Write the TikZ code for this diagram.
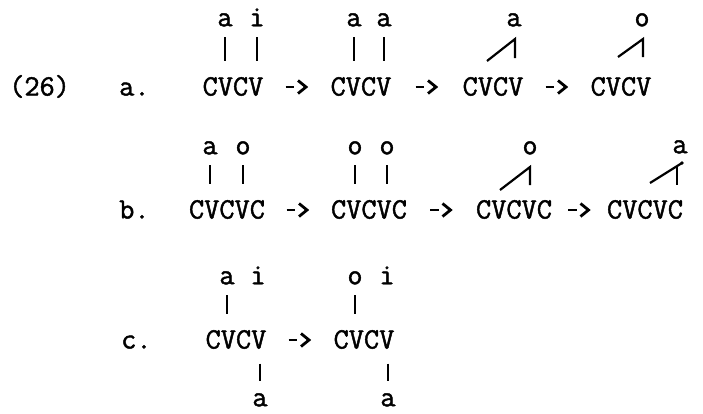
\documentclass[tikz,border=0pt]{standalone}
\usepackage{fontspec}
\newfontfamily\twfont{Latin Modern Mono}[FakeBold=1.5]
\usetikzlibrary{calc}
\begin{document}
\begin{tikzpicture}[x=1pt,y=1pt,
  tt/.style={font=\fontsize{29.5}{30}\twfont, inner sep=0pt},
  word/.style={tt, text height=17pt, text depth=0pt},
  vow/.style={tt, text height=12.5pt, text depth=0pt},
  lab/.style={tt, text height=17pt, text depth=0pt, anchor=west},
  assoc/.style={line width=2.2pt},
  topbar/.style={assoc, shorten <=11pt, shorten >=17pt},
  lowbar/.style={assoc, shorten <=15pt, shorten >=13pt},
  dashpart/.style={line width=2.2pt},
  chev/.style={line width=2.8pt, line join=miter, miter limit=10},
  rwarrow/.pic={
    \draw[dashpart] (-11.5,0) -- (-3,0);
    \draw[chev] (1,6.5) -- (9,0) -- (1,-6.5);
  }
]
\useasboundingbox (0,0) rectangle (703,-413);

% ---------- row a ----------
\node[lab] (n26) at (9,-87) {(26)};
\node[lab] (la) at (119,-87) {a.};
\node[word] (a1) at (233,-87) {CVCV};
\node[word] (a2) at (361,-87) {CVCV};
\node[word] (a3) at (493,-87) {CVCV};
\node[word] (a4) at (621,-87) {CVCV};
\node[vow] (a1v1) at (225,-20) {a};
\node[vow] (a1v2) at (257,-20) {i};
\node[vow] (a2v1) at (354,-20) {a};
\node[vow] (a2v2) at (384,-20) {a};
\node[vow] (a3v) at (514,-20) {a};
\node[vow] (a4v) at (642,-20) {o};
\draw[topbar] (a1v1) -- (a1v1 |- a1.north);
\draw[topbar] (a1v2) -- (a1v2 |- a1.north);
\draw[topbar] (a2v1) -- (a2v1 |- a2.north);
\draw[topbar] (a2v2) -- (a2v2 |- a2.north);
\coordinate (a3t) at (515,-39);
\coordinate (a3b) at (515,-58);
\coordinate (a3l) at (487,-61);
\draw[assoc] (a3l) -- (a3t) -- (a3b);
\coordinate (a4t) at (643,-39);
\coordinate (a4b) at (643,-57);
\coordinate (a4l) at (618,-57);
\draw[assoc] (a4l) -- (a4t) -- (a4b);
\pic at ($(a1.east)!0.5!(a2.west)$) {rwarrow};
\pic at ($(a2.east)!0.5!(a3.west)$) {rwarrow};
\pic at ($(a3.east)!0.5!(a4.west)$) {rwarrow};

% ---------- row b ----------
\node[lab] (lb) at (119,-210) {b.};
\node[word] (b1) at (227,-210) {CVCVC};
\node[word] (b2) at (369,-210) {CVCVC};
\node[word] (b3) at (514,-210) {CVCVC};
\node[word] (b4) at (645,-210) {CVCVC};
\node[vow] (b1v1) at (210,-148) {a};
\node[vow] (b1v2) at (243,-148) {o};
\node[vow] (b2v1) at (355,-148) {o};
\node[vow] (b2v2) at (387,-148) {o};
\node[vow] (b3v) at (530,-148) {o};
\node[vow] (b4v) at (680,-147) {a};
\draw[topbar] (b1v1) -- (b1v1 |- b1.north);
\draw[topbar] (b1v2) -- (b1v2 |- b1.north);
\draw[topbar] (b2v1) -- (b2v1 |- b2.north);
\draw[topbar] (b2v2) -- (b2v2 |- b2.north);
\coordinate (b3t) at (530,-167);
\coordinate (b3b) at (530,-185);
\coordinate (b3l) at (500,-190);
\draw[assoc] (b3l) -- (b3t) -- (b3b);
\coordinate (b4t) at (682,-163);
\coordinate (b4l) at (650,-183);
\coordinate (b4vt) at (677,-166);
\coordinate (b4vb) at (677,-185);
\draw[assoc] (b4l) -- (b4t);
\fill (b4t) circle (1.8pt);
\draw[assoc] (b4vt) -- (b4vb);
\pic at ($(b1.east)!0.5!(b2.west)$) {rwarrow};
\pic at ($(b2.east)!0.5!(b3.west)$) {rwarrow};
\pic at ($(b3.east)!0.5!(b4.west)$) {rwarrow};

% ---------- row c ----------
\node[lab] (lc) at (121,-340) {c.};
\node[word] (c1) at (236,-340) {CVCV};
\node[word] (c2) at (364,-340) {CVCV};
\node[vow] (c1v1) at (227,-278) {a};
\node[vow] (c1v2) at (258,-278) {i};
\node[vow] (c2v1) at (355,-278) {o};
\node[vow] (c2v2) at (387,-278) {i};
\node[vow] (c1w) at (260,-400) {a};
\node[vow] (c2w) at (388,-400) {a};
\draw[topbar] (c1v1) -- (c1v1 |- c1.north);
\draw[topbar] (c2v1) -- (c2v1 |- c2.north);
\draw[lowbar] (c1w |- c1.south) -- (c1w);
\draw[lowbar] (c2w |- c2.south) -- (c2w);
\pic at ($(c1.east)!0.5!(c2.west)$) {rwarrow};
\end{tikzpicture}
\end{document}
